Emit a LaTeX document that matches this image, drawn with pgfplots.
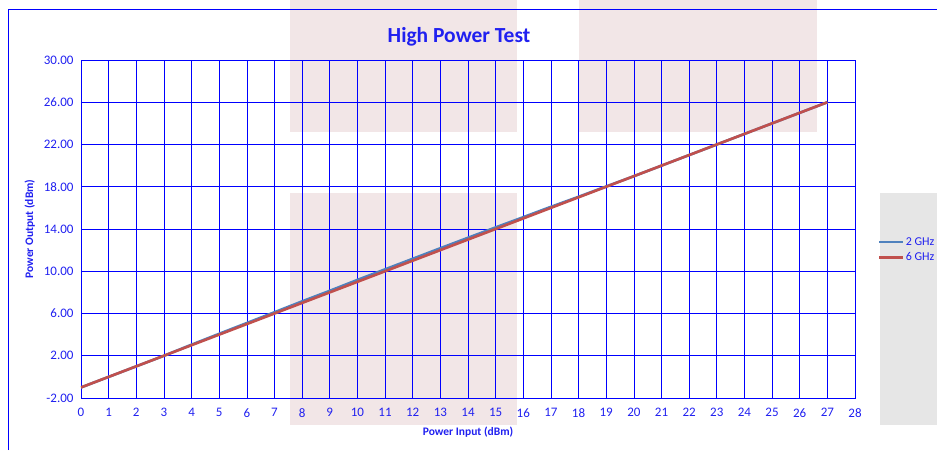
\documentclass[border=0pt]{standalone}
\usepackage{pgfplots}
\pgfplotsset{compat=1.18}
\usepackage{fontspec}
\setmainfont{Carlito}
\definecolor{gblue}{HTML}{0000FF}
\definecolor{tblue}{HTML}{2020F0}
\definecolor{pinkbg}{HTML}{F2E6E7}
\definecolor{graybg}{HTML}{E6E6E6}
\definecolor{s1}{HTML}{4F81BD}
\definecolor{s2}{HTML}{C0504D}
\pgfplotstableread{
x y
0 -1
1 0
2 1
3 2
4 3.05
5 4.08
6 5.1
7 6.12
8 7.15
9 8.15
10 9.18
11 10.18
12 11.18
13 12.18
14 13.17
15 14.15
16 15.12
17 16.1
18 17.05
19 18.03
20 19
21 20
22 21
23 22
24 23
25 24
26 25
27 26
}\twoghz
\pgfplotstableread{
x y
0 -1
1 0
2 1
3 2
4 3
5 4
6 5
7 6
8 7
9 8
10 9
11 10
12 11
13 12
14 13
15 14
16 15
17 16
18 17
19 18
20 19
21 20
22 21
23 22
24 23
25 24
26 25
27 26
}\sixghz
\begin{document}
\begin{tikzpicture}
\useasboundingbox (0pt,0pt) rectangle (937pt,450pt);
% background rectangles (pixel coords, y flipped)
\fill[pinkbg] (290pt,450pt) rectangle (517pt,318pt);
\fill[pinkbg] (579pt,450pt) rectangle (817pt,318pt);
\fill[pinkbg] (290pt,257pt) rectangle (517pt,25pt);
\fill[graybg] (880pt,257pt) rectangle (937pt,25pt);
% outer frame
\draw[gblue, line width=0.8pt] (8pt,0pt) -- (8pt,441pt) -- (937pt,441pt);
\node[text=tblue, font=\fontsize{21.5}{24}\selectfont\bfseries] at (459pt,413pt) {High Power Test};
\begin{axis}[
  at={(81pt,52pt)}, anchor=south west,
  scale only axis, width=774pt, height=338pt,
  xmin=0, xmax=28, ymin=-2, ymax=30,
  xtick={0,1,...,28}, ytick={-2,2,...,30},
  grid=major,
  major grid style={gblue, line width=0.7pt},
  axis line style={gblue, line width=0.8pt},
  major tick length=0pt,
  tick label style={text=tblue, font=\fontsize{13}{15}\selectfont},
  yticklabel style={xshift=-4pt},
  xticklabel style={yshift=-7pt},
  /pgf/number format/assume math mode=true,
  yticklabel={\pgfmathprintnumber[fixed, fixed zerofill, precision=2]{\tick}},
  xticklabel={\pgfmathprintnumber[fixed, precision=0]{\tick}},
  xlabel={Power Input (dBm)},
  ylabel={Power Output (dBm)},
  label style={text=tblue, font=\fontsize{11.5}{13}\selectfont\bfseries},
  xlabel style={yshift=-3pt},
  ylabel style={yshift=2pt},
  legend style={at={(1.0297,0.438)}, anchor=west, draw=none, fill=none,
    font=\fontsize{12}{14}\selectfont, text=tblue, inner sep=0pt,
    row sep=4pt, nodes={inner sep=1pt}},
  legend cell align=left,
  legend image code/.code={\draw[#1] (0pt,0pt) -- (24pt,0pt);},
]
\addplot[s1, line width=2.6pt] table[x=x,y=y] {\twoghz};
\addlegendentry{2 GHz}
\addplot[s2, line width=2.6pt] table[x=x,y=y] {\sixghz};
\addlegendentry{6 GHz}
\end{axis}
\end{tikzpicture}
\end{document}
